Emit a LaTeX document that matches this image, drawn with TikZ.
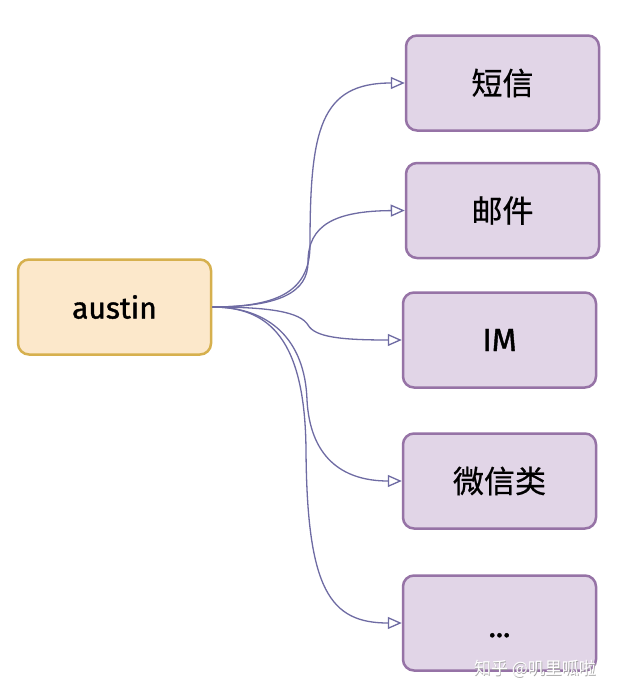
\documentclass[tikz,border=0pt]{standalone}
\usepackage{fontspec}
\setmainfont{Fira Sans}
\newfontfamily\latf[FakeBold=1.3]{Fira Sans}
\newfontfamily\cjk{Noto Sans CJK SC}
\newfontfamily\cjkb[FakeBold=0.6]{Noto Sans CJK SC}
\usetikzlibrary{arrows.meta}
\definecolor{orfill}{HTML}{FCE8CB}
\definecolor{ordraw}{HTML}{D6B04E}
\definecolor{pufill}{HTML}{E1D5E7}
\definecolor{pudraw}{HTML}{9673A6}
\definecolor{edgec}{HTML}{6E6BA3}
\begin{document}
\begin{tikzpicture}[x=1pt,y=-1pt,
  box/.style={draw, line width=2.5pt, rounded corners=11pt, minimum width=193pt, minimum height=95pt, inner sep=0pt},
  src/.style={box, fill=orfill, draw=ordraw},
  dst/.style={box, fill=pufill, draw=pudraw},
  lat/.style={font=\latf\fontsize{30}{34}\selectfont},
  han/.style={font=\cjkb\fontsize{31}{36}\selectfont},
  conn/.style={draw=edgec, line width=1.3pt, -{Triangle[open,length=14pt,width=12pt,line width=1.3pt]}}]
\useasboundingbox[fill=white] (0,0) rectangle (618,696);
\node[src,lat] (austin) at (114.5,307) {austin};
\node[dst,han] (a1) at (502.5,83) {短信};
\node[dst,han] (a2) at (502.5,210.5) {邮件};
\node[dst,lat,font=\latf\fontsize{32}{36}\selectfont] (a3) at (499.5,340) {IM};
\node[dst,han] (a4) at (499.5,481) {微信类};
\node[dst,lat,text height=28pt,text depth=0pt] (a5) at (499.5,623) {...};
\draw[conn] (austin.east) .. controls (280,307) and (310,290) .. (310,245) .. controls (310,130) and (320,83) .. (a1.west);
\draw[conn] (austin.east) .. controls (280,307) and (308,292) .. (308,262) .. controls (308,225) and (335,211) .. (a2.west);
\draw[conn] (austin.east) .. controls (270,307) and (300,312) .. (308,325) .. controls (315,337) and (340,340) .. (a3.west);
\draw[conn] (austin.east) .. controls (270,307) and (305,340) .. (307,400) .. controls (310,455) and (340,481) .. (a4.west);
\draw[conn] (austin.east) .. controls (270,307) and (305,340) .. (306,450) .. controls (307,590) and (330,623) .. (a5.west);
\node[font=\cjk\fontsize{17}{20}\selectfont, text=gray!70] (wms) at (535.6,669.6) {知乎 @叽里呱啦};
\node[font=\cjk\fontsize{17}{20}\selectfont, text=white] (wm) at (535,669) {知乎 @叽里呱啦};
\end{tikzpicture}
\end{document}
